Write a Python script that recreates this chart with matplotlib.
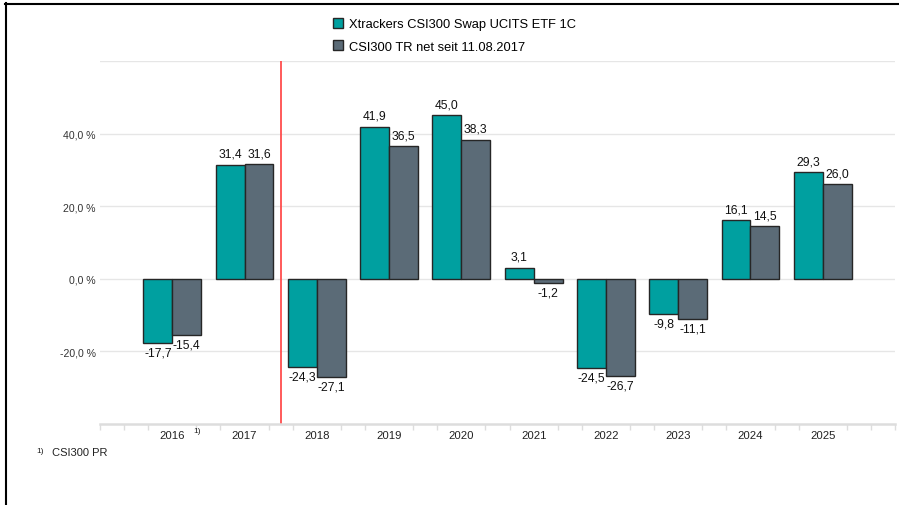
import numpy as np
import matplotlib
matplotlib.use("Agg")
import matplotlib.pyplot as plt
from matplotlib.lines import Line2D

plt.rcParams['font.family'] = ['Liberation Sans', 'DejaVu Sans']

years = [2016, 2017, 2018, 2019, 2020, 2021, 2022, 2023, 2024, 2025]
year_labels = ['2016', '2017', '2018', '2019', '2020', '2021', '2022', '2023', '2024', '2025']
etf = [-17.7, 31.4, -24.3, 41.9, 45.0, 3.1, -24.5, -9.8, 16.1, 29.3]
index = [-15.4, 31.6, -27.1, 36.5, 38.3, -1.2, -26.7, -11.1, 14.5, 26.0]
etf_name = 'Xtrackers CSI300 Swap UCITS ETF 1C'
index_name = 'CSI300 TR net seit 11.08.2017'
yticks = [-20, 0, 20, 40]

teal = '#00a0a0'
slate = '#5b6b77'
edge = '#262626'

W, H = 899, 506
fig = plt.figure(figsize=(W / 100, H / 100), dpi=100)
ax = fig.add_axes([100 / W, 1 - 425 / H, 795 / W, 363 / H])

x = np.array(years, dtype=float)
bw = 0.4
b1 = ax.bar(x - bw / 2, etf, bw, color=teal, edgecolor=edge, linewidth=1, zorder=3, label=etf_name)
b2 = ax.bar(x + bw / 2, index, bw, color=slate, edgecolor=edge, linewidth=1, zorder=3, label=index_name)

for bars, vals in ((b1, etf), (b2, index)):
    for b, v in zip(bars, vals):
        txt = f'{v:.1f}'.replace('.', ',')
        cx = b.get_x() + b.get_width() / 2
        if v >= 0:
            ax.annotate(txt, (cx, v), xytext=(0, 3.5), textcoords='offset points',
                        ha='center', va='bottom', fontsize=8.7, color='#111111', zorder=4)
        else:
            ax.annotate(txt, (cx, v), xytext=(0, -2.5), textcoords='offset points',
                        ha='center', va='top', fontsize=8.7, color='#111111', zorder=4)

ax.set_xlim(2015, 2026)
ax.set_ylim(-40, 60)

# grid
for g in [60] + yticks:
    ax.axhline(g, color='#e6e6e6', lw=1, zorder=1)
ax.set_yticks(yticks)
ax.set_yticklabels([f'{t:.1f} %'.replace('.', ',') for t in yticks], fontsize=7.6, color='#333333')
ax.tick_params(axis='y', length=0, pad=3)

# x axis: labels at categories, small ticks in between
ax.set_xticks(years)
ax.set_xticklabels(year_labels, fontsize=8.2, color='#222222')
ax.tick_params(axis='x', which='major', length=0, pad=4)
minor = [2015, 2026] + [k + d for k in range(2015, 2027) for d in (-1 / 3, 1 / 3) if 2015 < k + d < 2026]
ax.set_xticks(minor, minor=True)
ax.tick_params(axis='x', which='minor', length=4, width=1, color='#dddddd', direction='out')

for s in ['top', 'right', 'left']:
    ax.spines[s].set_visible(False)
ax.spines['bottom'].set_color('#dddddd')
ax.spines['bottom'].set_linewidth(1.8)

# red separator between 2017 and 2018
ax.axvline(2017.5, color='#ff4d4d', lw=1.3, zorder=2)

# footnote marker next to 2016
ax.annotate('1)', (2016, -40), xytext=(18, -2), textcoords='offset points',
            ha='center', va='top', fontsize=6, color='#222222')

leg = fig.legend(handles=[b1, b2], loc='upper left', bbox_to_anchor=(333 / W, 1 - 19 / H),
                 frameon=False, fontsize=9.3, handlelength=0.8, handleheight=0.8,
                 handletextpad=0.45, labelspacing=0.75, borderaxespad=0, borderpad=0)

fig.text(36 / W, 1 - 452 / H, '1)', fontsize=6, va='center', ha='left', color='#222222')
fig.text(52 / W, 1 - 453 / H, 'CSI300 PR', fontsize=8, va='center', ha='left', color='#222222')

# outer frame (top and left)
fig.add_artist(Line2D([5 / W, 898 / W], [1 - 4.5 / H, 1 - 4.5 / H], color='black', lw=1.5))
fig.add_artist(Line2D([5.5 / W, 5.5 / W], [1 - 4 / H, 0], color='black', lw=1.5))

fig.savefig('out.png', dpi=100)
